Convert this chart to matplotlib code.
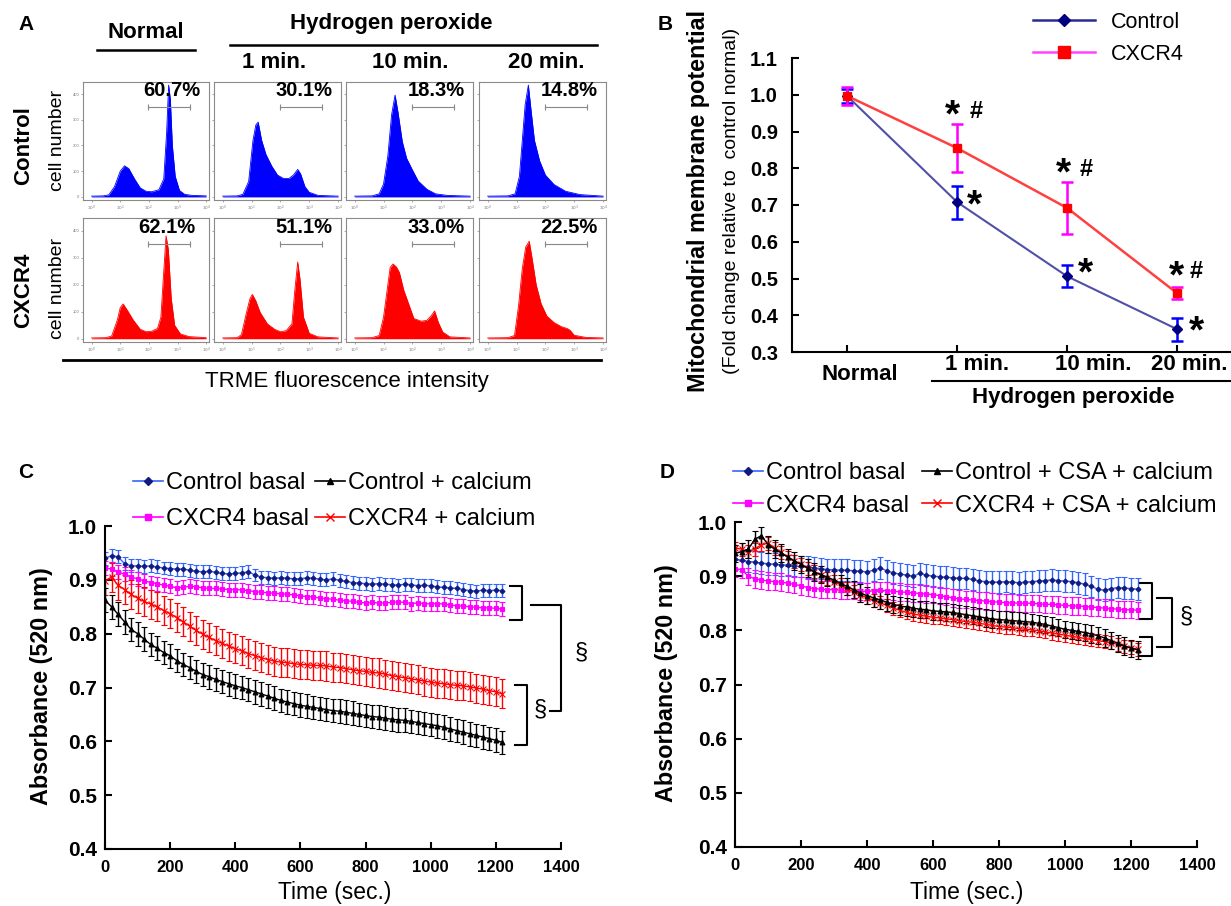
import matplotlib
matplotlib.use('Agg')
import matplotlib.pyplot as plt
from matplotlib.lines import Line2D

plt.rcParams['font.family'] = ['Liberation Sans', 'DejaVu Sans']

W, H = 1231, 906
fig = plt.figure(figsize=(W / 100, H / 100), dpi=100)


def add_ax(l, t, r, b):
    return fig.add_axes([l / W, 1 - b / H, (r - l) / W, (b - t) / H])


def ftext(x, y, s, **kw):
    fig.text(x / W, 1 - y / H, s, **kw)


def fline(x1, x2, y1, y2, lw=1.5, color='black'):
    fig.add_artist(Line2D([x1 / W, x2 / W], [1 - y1 / H, 1 - y2 / H], color=color, lw=lw))


# ---------------------------------------------------------------- data: panel A
A_COLUMNS = ['Normal', '1 min.', '10 min.', '20 min.']
A_ROWS = ['Control', 'CXCR4']
A_PCT_CTRL = ['60.7%', '30.1%', '18.3%', '14.8%']
A_PCT_CXCR4 = ['62.1%', '51.1%', '33.0%', '22.5%']
A_GATE = [1.97, 3.45]
A_GATE_LEVEL = 350

CTRL_NORMAL_X = [0, 0.4, 0.6, 0.8, 1.0, 1.15, 1.3, 1.5, 1.7, 1.9, 2.1, 2.35, 2.52, 2.62, 2.69, 2.75, 2.82, 2.92, 3.07, 3.25, 3.5, 4.0]
CTRL_NORMAL_Y = [3, 4, 8, 40, 100, 121, 110, 70, 35, 22, 20, 28, 70, 250, 435, 380, 200, 80, 25, 10, 6, 4]
CTRL_1MIN_X = [0, 0.5, 0.7, 0.9, 1.05, 1.15, 1.23, 1.35, 1.5, 1.7, 1.9, 2.1, 2.3, 2.45, 2.6, 2.7, 2.85, 3.0, 3.3, 4.0]
CTRL_1MIN_Y = [3, 4, 10, 60, 220, 280, 291, 220, 165, 120, 85, 72, 72, 85, 107, 90, 40, 18, 6, 3]
CTRL_10MIN_X = [0, 0.6, 0.85, 1.0, 1.15, 1.28, 1.4, 1.5, 1.65, 1.8, 2.0, 2.2, 2.5, 2.8, 3.2, 4.0]
CTRL_10MIN_Y = [3, 4, 12, 50, 160, 320, 396, 330, 215, 150, 105, 62, 30, 12, 6, 3]
CTRL_20MIN_X = [0, 0.7, 0.95, 1.1, 1.2, 1.3, 1.41, 1.5, 1.62, 1.8, 2.0, 2.3, 2.7, 3.2, 4.0]
CTRL_20MIN_Y = [3, 4, 12, 80, 220, 360, 435, 340, 220, 140, 85, 48, 22, 9, 3]

CX_NORMAL_X = [0, 0.5, 0.7, 0.9, 1.0, 1.1, 1.25, 1.45, 1.7, 1.9, 2.1, 2.3, 2.42, 2.52, 2.6, 2.68, 2.78, 2.9, 3.1, 3.4, 4.0]
CX_NORMAL_Y = [3, 4, 10, 70, 115, 129, 105, 70, 35, 26, 28, 38, 80, 250, 381, 330, 150, 50, 18, 8, 4]
CX_1MIN_X = [0, 0.5, 0.65, 0.82, 0.95, 1.03, 1.15, 1.3, 1.55, 1.8, 2.0, 2.2, 2.4, 2.5, 2.6, 2.68, 2.8, 3.0, 3.3, 4.0]
CX_1MIN_Y = [3, 4, 15, 95, 150, 164, 140, 97, 55, 35, 26, 30, 55, 180, 284, 220, 80, 20, 7, 3]
CX_10MIN_X = [0, 0.6, 0.85, 1.0, 1.1, 1.23, 1.33, 1.45, 1.55, 1.7, 1.85, 2.05, 2.3, 2.5, 2.65, 2.77, 2.9, 3.05, 3.3, 4.0]
CX_10MIN_Y = [3, 4, 12, 80, 160, 264, 277, 265, 245, 180, 135, 75, 65, 68, 85, 103, 60, 25, 7, 3]
CX_20MIN_X = [0, 0.7, 0.93, 1.07, 1.2, 1.32, 1.44, 1.55, 1.68, 1.85, 2.05, 2.3, 2.55, 2.75, 2.85, 3.0, 3.4, 4.0]
CX_20MIN_Y = [3, 4, 12, 122, 260, 340, 361, 290, 200, 130, 84, 60, 45, 38, 32, 13, 5, 3]

# ---------------------------------------------------------------- data: panel B
B_CATEGORIES = ['Normal', '1 min.', '10 min.', '20 min.']
B_CONTROL = [0.997, 0.708, 0.506, 0.362]
B_CONTROL_ERR = [0.020, 0.045, 0.030, 0.031]
B_CXCR4 = [0.997, 0.855, 0.692, 0.460]
B_CXCR4_ERR = [0.025, 0.065, 0.071, 0.017]

# ---------------------------------------------------------------- data: panels C, D
TIME = list(range(0, 1221, 20))

C_CTRL_BASAL = [.940, .945, .943, .930, .926, .926, .925, .926, .924, .922, .921, .920, .920, .918, .916, .915,
                .916, .914, .912, .911, .912, .913, .915, .909, .905, .904, .903, .904, .903, .902, .902, .904,
                .903, .901, .900, .902, .899, .897, .895, .894, .893, .892, .893, .892, .891, .890, .892, .891,
                .889, .890, .889, .887, .886, .885, .884, .882, .880, .879, .881, .880, .881, .880]
C_CXCR4_BASAL = [.922, .920, .915, .910, .905, .902, .898, .895, .893, .890, .888, .885, .886, .888, .887, .885,
                 .884, .884, .883, .882, .882, .881, .880, .878, .877, .876, .875, .874, .873, .872, .870, .869,
                 .868, .866, .865, .864, .862, .861, .860, .858, .857, .858, .857, .857, .858, .859, .858, .856,
                 .857, .856, .855, .856, .855, .853, .852, .851, .850, .849, .848, .848, .847, .846]
C_CXCR4_CA = [.898, .905, .890, .882, .873, .866, .860, .855, .850, .843, .837, .830, .822, .814, .806, .799,
              .793, .787, .782, .777, .772, .768, .763, .759, .755, .752, .749, .747, .746, .744, .743, .742,
              .741, .741, .740, .738, .737, .735, .733, .731, .730, .728, .727, .725, .722, .720, .718, .716,
              .714, .712, .710, .708, .707, .705, .704, .703, .701, .699, .697, .694, .692, .688]
C_CTRL_CA = [.862, .850, .836, .822, .808, .800, .790, .780, .773, .765, .759, .750, .743, .737, .730, .724,
             .720, .715, .711, .707, .703, .700, .696, .692, .688, .684, .680, .676, .673, .670, .667, .665,
             .663, .661, .659, .657, .656, .654, .652, .650, .648, .646, .645, .643, .641, .640, .639, .637,
             .635, .633, .631, .629, .626, .623, .620, .617, .614, .611, .608, .605, .602, .598]
C_ERR = [0.012, 0.013, 0.027, 0.022]

D_CTRL_BASAL = [.932, .929, .927, .926, .924, .923, .922, .921, .920, .919, .918, .917, .915, .914, .912, .912,
                .911, .911, .910, .909, .908, .911, .915, .910, .906, .904, .902, .900, .905, .902, .900, .899,
                .898, .897, .896, .896, .894, .891, .890, .889, .889, .890, .889, .888, .889, .890, .891, .892,
                .893, .892, .891, .890, .888, .885, .881, .876, .874, .877, .879, .878, .877, .876]
D_CXCR4_BASAL = [.914, .912, .900, .895, .893, .891, .890, .889, .887, .885, .882, .879, .877, .876, .875, .875,
                 .874, .874, .873, .872, .872, .873, .874, .873, .872, .871, .870, .869, .868, .867, .866, .864,
                 .862, .860, .858, .857, .856, .855, .854, .853, .852, .851, .851, .850, .850, .850, .849, .848,
                 .848, .847, .846, .845, .845, .844, .843, .842, .841, .840, .839, .838, .838, .837]
D_CXCR4_CSA_CA = [.952, .950, .945, .950, .958, .961, .952, .944, .935, .928, .922, .915, .908, .902, .896, .890,
                  .884, .877, .871, .865, .860, .855, .851, .846, .841, .837, .833, .830, .828, .826, .824, .823,
                  .821, .820, .818, .816, .815, .813, .811, .809, .807, .806, .805, .803, .802, .801, .799, .797,
                  .795, .793, .791, .789, .787, .785, .783, .781, .779, .777, .774, .771, .768, .765]
D_CTRL_CSA_CA = [.942, .945, .950, .968, .975, .958, .950, .943, .935, .928, .922, .915, .908, .903, .898, .893,
                 .887, .881, .875, .869, .864, .860, .856, .852, .848, .845, .843, .841, .839, .838, .836, .835,
                 .834, .833, .831, .829, .827, .825, .823, .821, .820, .819, .818, .817, .816, .815, .813, .811,
                 .808, .805, .802, .800, .798, .796, .793, .790, .786, .781, .776, .771, .767, .764]
D_ERR = [0.020, 0.016, 0.012, 0.016]

C_LABELS = ['Control basal', 'CXCR4 basal', 'CXCR4 + calcium', 'Control + calcium']
D_LABELS = ['Control basal', 'CXCR4 basal', 'CXCR4 + CSA + calcium', 'Control + CSA + calcium']

# ---------------------------------------------------------------- panel A
col_x = [(83, 209), (214, 341), (346, 473), (479, 606)]
row_y = [(82, 200), (218, 342)]
hist_x = [[CTRL_NORMAL_X, CTRL_1MIN_X, CTRL_10MIN_X, CTRL_20MIN_X],
          [CX_NORMAL_X, CX_1MIN_X, CX_10MIN_X, CX_20MIN_X]]
hist_y = [[CTRL_NORMAL_Y, CTRL_1MIN_Y, CTRL_10MIN_Y, CTRL_20MIN_Y],
          [CX_NORMAL_Y, CX_1MIN_Y, CX_10MIN_Y, CX_20MIN_Y]]
hist_col = ['#0000ff', '#ff0000']
pcts = [A_PCT_CTRL, A_PCT_CXCR4]

for r in range(2):
    for c in range(4):
        l, rr = col_x[c]
        t, b = row_y[r]
        ax = add_ax(l, t, rr, b)
        ax.fill_between(hist_x[r][c], hist_y[r][c], 0, color=hist_col[r], lw=0)
        ax.plot(hist_x[r][c], hist_y[r][c], color=hist_col[r], lw=0.6)
        ax.set_xlim(-0.3, 4.1)
        ax.set_ylim(-12, 447)
        ax.plot(A_GATE, [A_GATE_LEVEL] * 2, color='#888888', lw=0.8, marker='|', ms=4, mew=0.8)
        xr = 0.89 if (r == 1 and c == 0) else 0.935
        ax.text(xr, 0.925, pcts[r][c], transform=ax.transAxes, ha='right', va='center',
                fontsize=14.5, fontweight='bold')
        for s in ax.spines.values():
            s.set_color('#8a8a8a')
            s.set_linewidth(0.8)
        ax.set_xticks(range(5))
        ax.set_xticklabels([r'$10^{%d}$' % k for k in range(5)])
        ax.set_yticks([0, 100, 200, 300, 400])
        if c == 0:
            ax.set_yticklabels(['0', '100', '200', '300', '400'])
        else:
            ax.set_yticklabels([])
        ax.tick_params(axis='both', length=1.5, width=0.5, colors='#888888', labelsize=3,
                       pad=1, labelcolor='#777777')

ftext(18, 25, 'A', fontsize=15, fontweight='bold', ha='left', va='center')
ftext(146, 32, A_COLUMNS[0], fontsize=16, fontweight='bold', ha='center', va='center')
fline(97, 195, 50, 50, lw=1.8)
ftext(391, 23, 'Hydrogen peroxide', fontsize=16, fontweight='bold', ha='center', va='center')
fline(230, 597, 45, 45, lw=1.8)
for xc, lab in zip([274, 410, 546], A_COLUMNS[1:]):
    ftext(xc, 63, lab, fontsize=16, fontweight='bold', ha='center', va='center')
fline(63, 601, 360, 360, lw=2)
ftext(347, 381, 'TRME fluorescence intensity', fontsize=16, ha='center', va='center')
for yc, lab in zip([146, 290], A_ROWS):
    ftext(24, yc, lab, fontsize=16, fontweight='bold', rotation=90, ha='center', va='center')
for yc in [140, 288]:
    ftext(57, yc, 'cell number', fontsize=14, rotation=90, ha='center', va='center')

# ---------------------------------------------------------------- panel B
axB = add_ax(792, 58, 1231, 352)
xpos = list(range(len(B_CATEGORIES)))
axB.errorbar(xpos, B_CONTROL, yerr=B_CONTROL_ERR, color='#5050a8', ecolor='#0000ff', lw=1.5,
             elinewidth=1.8, capsize=4, capthick=1.8, marker='D', ms=5, mfc='#000080', mec='#000080', zorder=3)
axB.errorbar(xpos, B_CXCR4, yerr=B_CXCR4_ERR, color='#ff4040', ecolor='#ff00ff', lw=1.8,
             elinewidth=1.8, capsize=4, capthick=1.8, marker='s', ms=6, mfc='#ff0000', mec='#ff0000', zorder=4)
axB.set_xlim(-0.5, 3.49)
axB.set_ylim(0.3, 1.1)
axB.spines['top'].set_visible(False)
axB.spines['right'].set_visible(False)
for s in ['left', 'bottom']:
    axB.spines[s].set_linewidth(1.5)
yb = [0.3, 0.4, 0.5, 0.6, 0.7, 0.8, 0.9, 1.0, 1.1]
axB.set_yticks(yb)
axB.set_yticklabels(['%.1f' % v for v in yb], fontweight='bold', fontsize=14.5)
axB.set_xticks(xpos)
axB.set_xticklabels([])
axB.tick_params(axis='both', direction='in', length=5, width=1.5)
axB.tick_params(axis='y', pad=10)

# significance marks
star_kw = dict(fontsize=28, fontweight='bold', ha='center', va='center')
hash_kw = dict(fontsize=17, fontweight='bold', ha='center', va='center')
for xs, ys, xh, yh in [(0.96, 0.94, 1.17, 0.955), (1.97, 0.782, 2.17, 0.797), (2.99, 0.502, 3.17, 0.52)]:
    axB.text(xs, ys, '*', **star_kw)
    axB.text(xh, yh, '#', **hash_kw)
for xs, ys in [(1.16, 0.695), (2.17, 0.51), (3.18, 0.352)]:
    axB.text(xs, ys, '*', **star_kw)

# category labels
ftext(860, 374, B_CATEGORIES[0], fontsize=16, fontweight='bold', ha='center', va='center')
for xc, lab in zip([977, 1093, 1189], B_CATEGORIES[1:]):
    ftext(xc, 364, lab, fontsize=16, fontweight='bold', ha='center', va='center')
fline(932, 1231, 381, 381)
ftext(1073, 398, 'Hydrogen peroxide', fontsize=16, fontweight='bold', ha='center', va='center')

ftext(698, 201, 'Mitochondrial membrane potential', fontsize=16.8, fontweight='bold', rotation=90,
      ha='center', va='center')
ftext(731, 201, '(Fold change relative to  control normal)', fontsize=14, rotation=90,
      ha='center', va='center')
ftext(658, 25, 'B', fontsize=15, fontweight='bold', ha='left', va='center')

hB = [Line2D([], [], color='#2a2a90', lw=1.8, marker='D', ms=6, mfc='#000080', mec='#000080'),
      Line2D([], [], color='#ff44ff', lw=1.8, marker='s', ms=9, mfc='#ff0000', mec='#ff0000')]
fig.legend(hB, ['Control', 'CXCR4'], loc='upper left', bbox_to_anchor=(1033 / W, 1 - 12 / H),
           frameon=False, fontsize=15.5, handlelength=2.9, handletextpad=0.7, labelspacing=0.5,
           borderpad=0, borderaxespad=0)

# ---------------------------------------------------------------- panels C and D
styles = [
    dict(color='#3366ff', marker='D', ms=2.5, mfc='#101a80', mec='#101a80'),
    dict(color='#ff00ff', marker='s', ms=3.5, mfc='#ff00ff', mec='#ff00ff'),
    dict(color='#ff0000', marker='x', ms=4, mfc='#ff0000', mec='#ff0000'),
    dict(color='#000000', marker='^', ms=3.5, mfc='#000000', mec='#000000'),
]


def time_panel(ax, series, errs):
    for vals, err, st in zip(series, errs, styles):
        ax.errorbar(TIME, vals, yerr=err, color=st['color'], ecolor=st['color'], lw=1,
                    elinewidth=1, capsize=2.5, capthick=1, marker=st['marker'], ms=st['ms'],
                    mfc=st['mfc'], mec=st['mec'], mew=0.8)
    ax.set_xlim(0, 1400)
    ax.set_ylim(0.4, 1.0)
    ax.spines['top'].set_visible(False)
    ax.spines['right'].set_visible(False)
    for s in ['left', 'bottom']:
        ax.spines[s].set_linewidth(1.5)
    ax.set_xticks(range(0, 1401, 200))
    ax.set_xticklabels([str(v) for v in range(0, 1401, 200)], fontweight='bold', fontsize=12)
    yt = [0.4, 0.5, 0.6, 0.7, 0.8, 0.9, 1.0]
    ax.set_yticks(yt)
    ax.set_yticklabels(['%.1f' % v for v in yt], fontweight='bold', fontsize=15)
    ax.tick_params(axis='both', direction='in', length=5, width=1.5)
    ax.tick_params(axis='y', pad=6)
    ax.tick_params(axis='x', pad=8)


def bracket(ax, x0, x1, y0, y1):
    ax.plot([x0, x1, x1, x0], [y0, y0, y1, y1], color='black', lw=1.5, clip_on=False)


axC = add_ax(105, 526, 561, 849)
time_panel(axC, [C_CTRL_BASAL, C_CXCR4_BASAL, C_CXCR4_CA, C_CTRL_CA], C_ERR)
bracket(axC, 1243, 1279, 0.888, 0.826)
bracket(axC, 1259, 1297, 0.704, 0.593)
axC.plot([1307, 1399, 1399, 1366], [0.854, 0.854, 0.656, 0.656], color='black', lw=1.5, clip_on=False)
axC.text(1461, 0.765, '\u00a7', fontsize=17, ha='center', va='center')
axC.text(1338, 0.66, '\u00a7', fontsize=17, ha='center', va='center')

axD = add_ax(735, 522, 1197, 847)
time_panel(axD, [D_CTRL_BASAL, D_CXCR4_BASAL, D_CXCR4_CSA_CA, D_CTRL_CSA_CA], D_ERR)
bracket(axD, 1227, 1263, 0.888, 0.821)
bracket(axD, 1227, 1263, 0.788, 0.753)
bracket(axD, 1280, 1323, 0.860, 0.770)
axD.text(1369, 0.825, '\u00a7', fontsize=17, ha='center', va='center')

ftext(42, 686, 'Absorbance (520 nm)', fontsize=16.8, fontweight='bold', rotation=90, ha='center', va='center')
ftext(335, 893, 'Time (sec.)', fontsize=16.5, ha='center', va='center')
ftext(666, 683, 'Absorbance (520 nm)', fontsize=16.8, fontweight='bold', rotation=90, ha='center', va='center')
ftext(967, 893, 'Time (sec.)', fontsize=16.5, ha='center', va='center')
ftext(18, 472, 'C', fontsize=15, fontweight='bold', ha='left', va='center')
ftext(660, 472, 'D', fontsize=15, fontweight='bold', ha='left', va='center')


def handle(st):
    return Line2D([], [], color=st['color'], lw=1.2, marker=st['marker'], ms=st['ms'] + 1.5,
                  mfc=st['mfc'], mec=st['mec'])


leg_kw = dict(loc='upper left', frameon=False, fontsize=17, handlelength=1.27, handletextpad=0.13,
              borderpad=0, borderaxespad=0)
# panel C legend: two columns
fig.legend([handle(styles[0]), handle(styles[1])], [C_LABELS[0], C_LABELS[1]],
           bbox_to_anchor=(133 / W, 1 - 472 / H), labelspacing=0.6, **leg_kw)
fig.legend([handle(styles[3]), handle(styles[2])], [C_LABELS[3], C_LABELS[2]],
           bbox_to_anchor=(315 / W, 1 - 472 / H), labelspacing=0.6, **leg_kw)
# panel D legend
fig.legend([handle(styles[0]), handle(styles[1])], [D_LABELS[0], D_LABELS[1]],
           bbox_to_anchor=(733 / W, 1 - 462 / H), labelspacing=0.45, **leg_kw)
fig.legend([handle(styles[3]), handle(styles[2])], [D_LABELS[3], D_LABELS[2]],
           bbox_to_anchor=(922 / W, 1 - 462 / H), labelspacing=0.45, **leg_kw)

fig.savefig('out.png', dpi=100)
